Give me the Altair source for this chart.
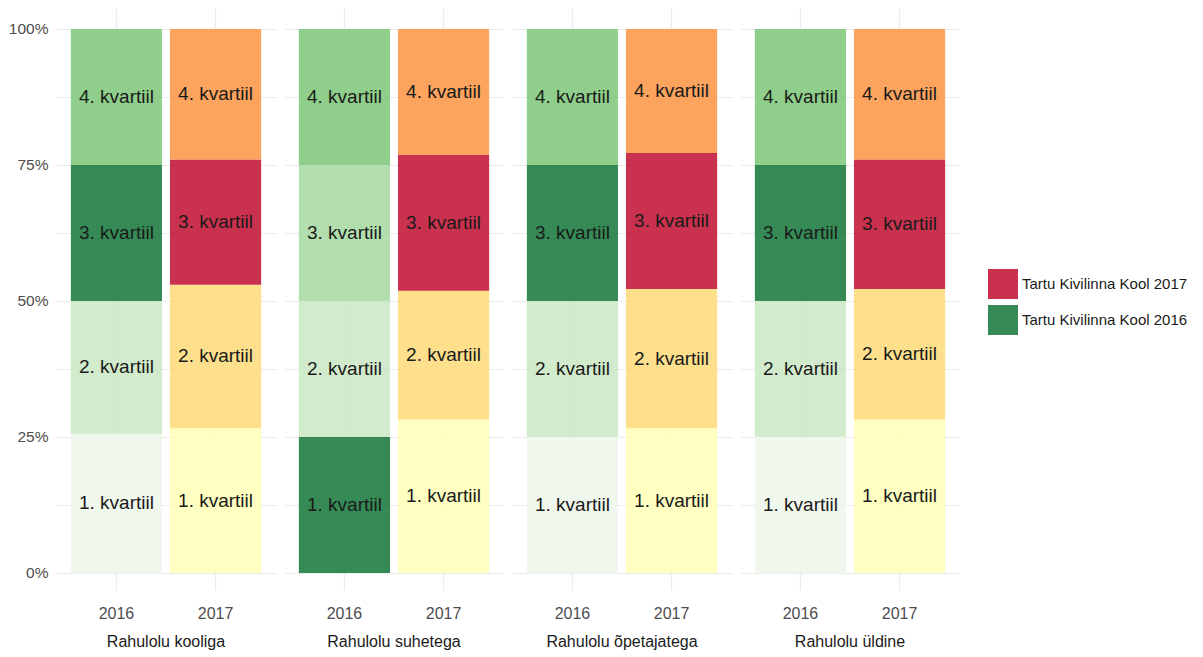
import altair as alt
import pandas as pd

panels = ["Rahulolu kooliga", "Rahulolu suhetega", "Rahulolu õpetajatega", "Rahulolu üldine"]
years = ["2016", "2017"]
quartile_labels = ["1. kvartiil", "2. kvartiil", "3. kvartiil", "4. kvartiil"]

# shares (%) of quartiles 1..4, per panel
shares_2016 = [
    [25.6, 24.4, 25.0, 25.0],
    [25.0, 25.0, 25.0, 25.0],
    [25.0, 25.0, 25.0, 25.0],
    [25.0, 25.0, 25.0, 25.0],
]
shares_2017 = [
    [26.6, 26.4, 23.0, 24.0],
    [28.2, 23.7, 25.0, 23.1],
    [26.6, 25.6, 25.0, 22.8],
    [28.2, 24.0, 23.8, 24.0],
]
# quartile in which the school falls (highlighted)
highlight_2016 = [3, 1, 3, 3]
highlight_2017 = [3, 3, 3, 3]

school = "Tartu Kivilinna Kool"
color_domain = [
    f"{school} 2017", f"{school} 2016",
    "2016 1", "2016 2", "2016 3", "2016 4",
    "2017 1", "2017 2", "2017 3", "2017 4",
]
color_range = [
    "#c31b3b", "#1f7d42",
    "#eef6ea", "#cce9c7", "#abdba5", "#83ca7e",
    "#ffffba", "#fedb80", "#fec44f", "#fc994b",
]

rows = []
for pi, p in enumerate(panels):
    for y, shares, hl in (("2016", shares_2016, highlight_2016), ("2017", shares_2017, highlight_2017)):
        cum = 0.0
        for qi, s in enumerate(shares[pi]):
            start = cum / 100.0
            cum += s
            end = cum / 100.0
            key = f"{school} {y}" if hl[pi] == qi + 1 else f"{y} {qi + 1}"
            rows.append(dict(panel=p, year=y, q=qi + 1, start=start, end=end,
                             mid=(start + end) / 2, label=quartile_labels[qi], key=key))
df = pd.DataFrame(rows)

FONT = "Liberation Sans"
grid_vals = [0, 0.125, 0.25, 0.375, 0.5, 0.625, 0.75, 0.875, 1.0]
yscale = alt.Scale(domain=[-0.03125, 1.0386], nice=False, zero=False)
yaxis = alt.Axis(values=grid_vals,
                 labelExpr="(datum.value*100) % 25 == 0 ? format(datum.value, '.0%') : ''",
                 title=None, ticks=False, domain=False, gridColor="#ebebeb", gridWidth=1.2,
                 labelPadding=8, labelFontSize=15.5, labelColor="#4d4d4d", labelFont=FONT)
xenc = alt.X("year:N", title=None,
             scale=alt.Scale(paddingInner=0.08, paddingOuter=0.15),
             axis=alt.Axis(labelAngle=0, ticks=False, domain=False, grid=True,
                           gridColor="#ebebeb", gridWidth=1.2, bandPosition=0.5,
                           labelPadding=15, labelFontSize=16, labelColor="#4d4d4d",
                           labelFont=FONT))

bars = alt.Chart().mark_bar(opacity=0.9).encode(
    x=xenc,
    y=alt.Y("start:Q", scale=yscale, axis=yaxis),
    y2="end:Q",
    color=alt.Color("key:N", scale=alt.Scale(domain=color_domain, range=color_range),
                    legend=alt.Legend(title=None, values=[f"{school} 2017", f"{school} 2016"],
                                      orient="none", legendX=932, legendY=261,
                                      symbolType="square", symbolSize=900,
                                      symbolStrokeWidth=0, rowPadding=6, labelOffset=4,
                                      labelFontSize=15, labelFont=FONT, labelLimit=400,
                                      labelColor="#1a1a1a")),
    order=alt.Order("q:Q"),
)
text = alt.Chart().mark_text(font=FONT, fontSize=19, color="#1a1a1a", baseline="middle").encode(
    x=xenc,
    y=alt.Y("mid:Q", scale=yscale, axis=yaxis),
    text="label:N",
)

chart = alt.layer(bars, text, data=df).properties(width=220, height=582).facet(
    column=alt.Column("panel:N", sort=panels, title=None,
                      header=alt.Header(labelOrient="bottom", labelFontSize=16,
                                        labelColor="#1a1a1a", labelFont=FONT,
                                        labelPadding=13))
).properties(padding={"left": 0, "top": 0, "right": 0, "bottom": 0}
).configure_facet(spacing=8).configure_view(strokeWidth=0)

chart.save("out.html", embed_options={"renderer": "svg", "actions": False})
